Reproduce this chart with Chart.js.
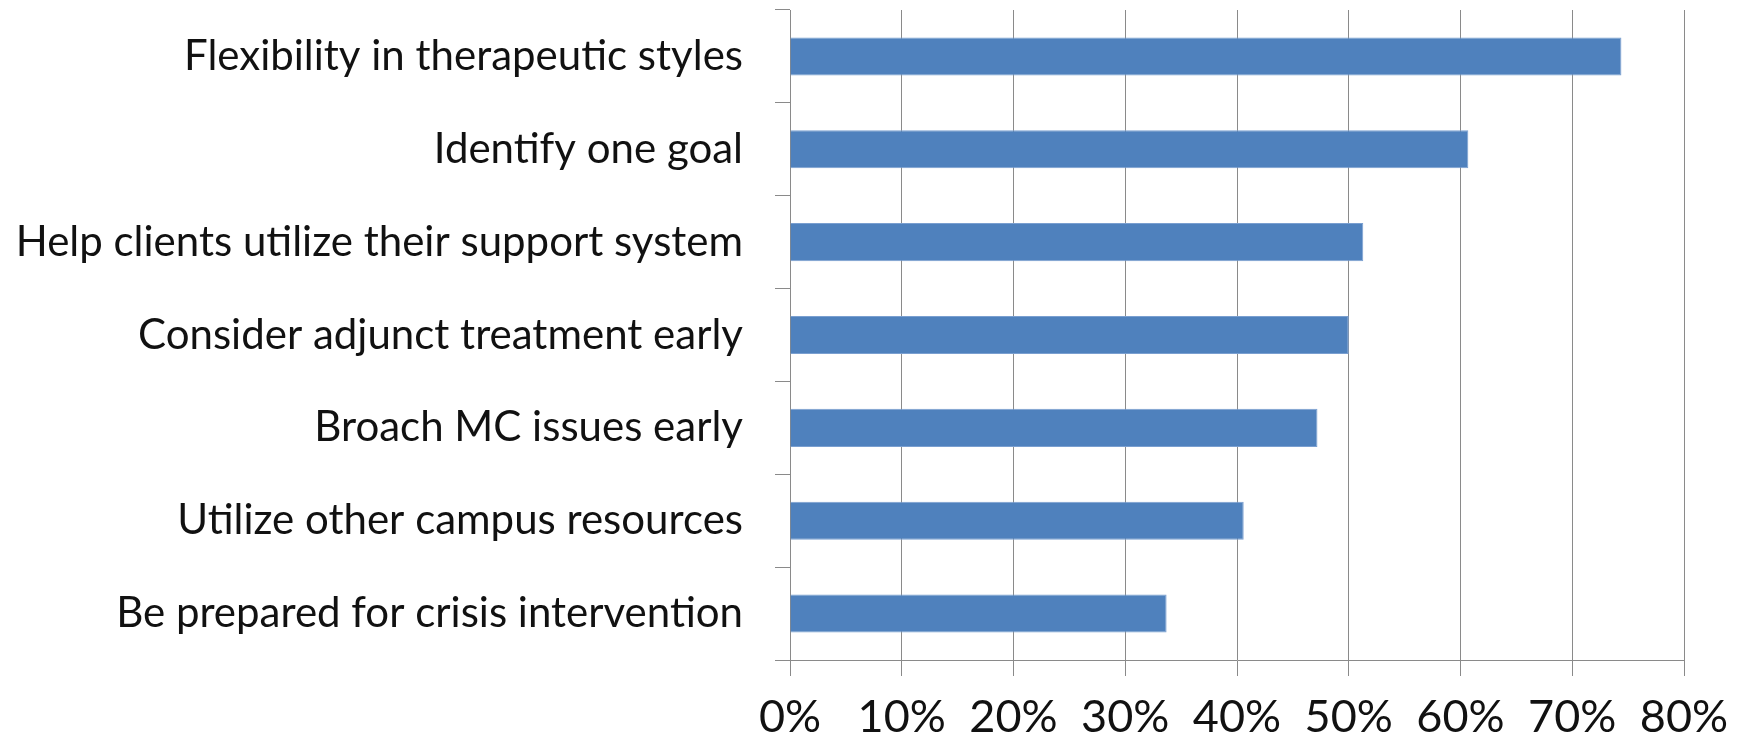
<!DOCTYPE html>
<html>
<head>
<meta charset="utf-8">
<script src="https://cdn.jsdelivr.net/npm/chart.js@4/dist/chart.umd.min.js"></script>
<style>
html,body{margin:0;padding:0;background:#fff;}
#wrap{width:1744px;height:739px;}
</style>
</head>
<body>
<div id="wrap"><canvas id="c" width="1744" height="739"></canvas></div>
<script>
const categories = [
  "Flexibility in therapeutic styles",
  "Identify one goal",
  "Help clients utilize their support system",
  "Consider adjunct treatment early",
  "Broach MC issues early",
  "Utilize other campus resources",
  "Be prepared for crisis intervention"
];
const values = [74.4, 60.7, 51.3, 50.0, 47.2, 40.6, 33.7];
const xTickMin = 0;
const xTickMax = 80;
const xTickStep = 10;

const gridColor = '#8a8a8a';
new Chart(document.getElementById('c'), {
  type: 'bar',
  data: {
    labels: categories,
    datasets: [{
      data: values,
      backgroundColor: '#4f81bd',
      borderColor: '#7a9fd0',
      borderWidth: 1,
      categoryPercentage: 1.0,
      barPercentage: 0.41
    }]
  },
  options: {
    indexAxis: 'y',
    responsive: false,
    devicePixelRatio: 1,
    animation: false,
    layout: { padding: { top: 10, right: 60, left: 0, bottom: 0 } },
    plugins: { legend: { display: false }, tooltip: { enabled: false } },
    scales: {
      x: {
        min: xTickMin, max: xTickMax,
        ticks: {
          stepSize: xTickStep,
          callback: v => v + '%',
          color: '#111',
          font: { family: 'Lato', size: 45 },
          padding: 14,
          maxRotation: 0
        },
        grid: { color: gridColor, lineWidth: 1, drawTicks: true, tickLength: 16 },
        border: { color: gridColor, width: 1 },
        afterFit: s => { s.height = 79; s.paddingLeft = 0; s.paddingRight = 0; }
      },
      y: {
        ticks: {
          color: '#111',
          font: { family: 'Lato', size: 42 },
          padding: 32
        },
        grid: { drawOnChartArea: false, drawTicks: true, tickLength: 15, color: gridColor, offset: true },
        border: { color: gridColor, width: 1 },
        afterFit: s => { s.width = 790; s.paddingTop = 0; s.paddingBottom = 0; }
      }
    }
  }
});
</script>
</body>
</html>
